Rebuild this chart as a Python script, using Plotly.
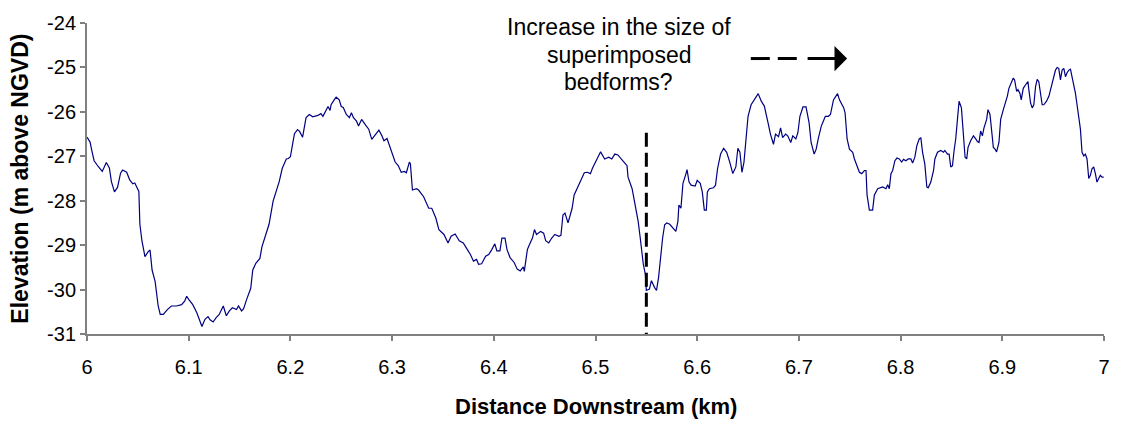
import plotly.graph_objects as go

# ---- data (distance in km, elevation in m above NGVD) ----
dist_a = [6.000,6.003,6.005,6.007,6.011,6.015,6.019,6.022,6.024,6.027,
          6.030,6.033,6.035,6.039,6.042,6.045,6.047,6.051,6.052,6.054,
          6.057,6.060,6.062,6.064,6.067,6.070,6.072,6.075,6.079,6.083,
          6.088,6.093,6.096,6.098,6.100,6.104,6.108,6.111,6.113,6.116,
          6.119,6.121,6.124,6.127,6.130,6.134,6.137,6.140,6.143,6.147,
          6.149,6.152,6.154,6.157,6.161,6.163,6.166,6.170,6.172,6.176,
          6.179,6.183,6.186,6.189,6.192,6.196,6.198,6.200,6.202,6.204,
          6.207,6.209,6.212]
elev_a = [-26.57,-26.68,-26.90,-27.10,-27.23,-27.34,-27.14,-27.26,-27.57,-27.80,
          -27.70,-27.38,-27.31,-27.36,-27.53,-27.62,-27.60,-27.79,-28.53,-28.90,
          -29.26,-29.15,-29.11,-29.56,-29.82,-30.37,-30.56,-30.56,-30.45,-30.37,
          -30.37,-30.34,-30.26,-30.15,-30.22,-30.34,-30.52,-30.71,-30.83,-30.67,
          -30.61,-30.68,-30.73,-30.63,-30.56,-30.37,-30.59,-30.48,-30.41,-30.45,
          -30.37,-30.48,-30.43,-30.22,-29.97,-29.56,-29.41,-29.30,-29.04,-28.75,
          -28.53,-28.01,-27.79,-27.57,-27.27,-27.06,-27.05,-27.01,-26.75,-26.49,
          -26.40,-26.44,-26.57]

dist_b = [6.2154,6.2186,6.222,6.227,6.230,6.232,6.235,6.237,6.239,6.240,
          6.243,6.245,6.248,6.250,6.252,6.255,6.258,6.260,6.262,6.265,
          6.267,6.270,6.274]
elev_b = [-26.13,-26.06,-26.11,-26.08,-26.04,-26.10,-25.97,-25.88,-25.97,-25.84,
          -25.73,-25.67,-25.73,-25.88,-25.90,-26.06,-26.13,-26.02,-26.13,-26.21,
          -26.32,-26.17,-26.30]

dist_c = [6.277,6.280,6.283,6.287,6.290,6.292,6.295,6.297,6.300,6.303,
          6.306,6.309,6.312,6.314,6.317,6.318,6.320,6.324,6.326,6.331,
          6.336,6.339,6.343,6.346,6.351,6.355,6.358,6.362,6.366,6.370,
          6.374,6.377,6.380,6.383,6.385,6.388,6.392,6.395,6.398,6.401,
          6.403,6.406,6.408,6.411,6.413,6.416,6.420,6.423,6.426,6.429,
          6.430,6.433,6.435,6.438,6.440,6.442,6.446,6.449,6.451,6.454,
          6.457,6.460,6.464,6.466,6.468,6.470,6.473,6.477,6.479,6.482,
          6.486,6.489,6.492,6.495,6.497,6.500]
elev_c = [-26.39,-26.62,-26.54,-26.41,-26.54,-26.65,-26.60,-26.73,-26.91,-27.13,
          -27.21,-27.36,-27.34,-27.37,-27.13,-27.17,-27.76,-27.73,-27.76,-27.91,
          -28.17,-28.17,-28.39,-28.65,-28.76,-28.95,-28.80,-28.75,-28.90,-28.95,
          -29.10,-29.21,-29.36,-29.32,-29.43,-29.42,-29.25,-29.21,-29.10,-28.97,
          -29.13,-29.13,-28.84,-28.84,-29.10,-29.28,-29.39,-29.54,-29.58,-29.49,
          -29.59,-29.10,-28.99,-28.84,-28.65,-28.76,-28.69,-28.73,-28.90,-28.95,
          -28.84,-28.76,-28.80,-28.78,-28.32,-28.28,-28.50,-28.17,-27.87,-27.73,
          -27.54,-27.37,-27.36,-27.39,-27.27,-27.13]

dist_d = [6.502,6.505,6.509,6.513,6.516,6.519,6.522,6.525,6.528,6.531,
          6.532,6.536,6.539,6.542,6.544,6.546,6.547,6.549,6.550,6.553,
          6.555,6.558,6.560,6.562,6.564,6.566,6.568,6.570,6.573,6.577,
          6.579,6.581,6.582,6.584,6.586,6.589,6.590,6.592,6.594,6.598,
          6.600,6.603,6.605,6.607,6.609,6.610,6.612,6.616,6.618,6.620,
          6.623,6.626,6.629,6.632,6.635,6.638,6.640,6.642,6.644,6.646,
          6.648,6.650,6.653,6.656,6.660,6.663,6.666,6.670,6.672,6.675,
          6.677,6.680,6.682,6.684,6.687,6.689,6.692,6.694,6.697,6.699,
          6.701,6.704,6.707,6.710,6.712,6.715,6.717,6.719,6.722,6.724,
          6.726,6.729,6.731,6.734,6.738]
elev_d = [-27.06,-26.90,-27.06,-27.02,-27.06,-26.95,-26.97,-27.06,-27.13,-27.21,
          -27.47,-27.73,-28.10,-28.47,-28.84,-29.20,-29.43,-29.65,-30.02,-29.99,
          -29.80,-29.95,-30.02,-29.73,-29.21,-28.84,-28.54,-28.50,-28.53,-28.65,
          -28.69,-28.47,-28.10,-28.17,-27.61,-27.39,-27.30,-27.58,-27.65,-27.67,
          -27.54,-27.61,-27.80,-28.21,-28.21,-27.80,-27.73,-27.71,-27.65,-27.28,
          -26.95,-26.82,-26.91,-27.13,-27.39,-27.24,-26.82,-26.91,-27.36,-27.13,
          -26.54,-26.10,-25.84,-25.73,-25.59,-25.76,-25.87,-26.28,-26.50,-26.73,
          -26.50,-26.56,-26.36,-26.58,-26.50,-26.54,-26.69,-26.54,-26.61,-26.47,
          -26.10,-25.89,-25.89,-26.24,-26.69,-26.95,-26.84,-26.61,-26.32,-26.21,
          -26.10,-26.10,-26.06,-25.73,-25.59]

dist_e = [6.7399,6.7441,6.7454,6.7474,6.7497,6.7529,6.7546,6.7572,6.7595,6.7618,
          6.7644,6.7660,6.7670,6.7693,6.7725,6.7742,6.7775,6.7824,6.7856,6.7873,
          6.7889,6.7905,6.7922,6.7944,6.7964,6.7987,6.8010,6.8029,6.8052,6.8075,
          6.8101,6.8118,6.8140,6.8160,6.8183,6.8199,6.8216,6.8238,6.8258,6.8271,
          6.8297,6.8324,6.8337,6.8363,6.8395,6.8422,6.8435,6.8461,6.8477,6.8493,
          6.8510,6.8526,6.8542,6.8559,6.8575,6.8598,6.8618,6.8634,6.8650,6.8663,
          6.8689,6.8716,6.8739,6.8755,6.8771,6.8787,6.8804,6.8820,6.8846,6.8859,
          6.8879,6.8892,6.8912,6.8928,6.8944,6.8967,6.8984,6.9010,6.9033,6.9049,
          6.9065,6.9088,6.9108,6.9121,6.9141,6.9154,6.9173,6.9186,6.9206,6.9229,
          6.9252,6.9261,6.9278,6.9294,6.9310,6.9327,6.9343,6.9359,6.9376,6.9392,
          6.9408,6.9435,6.9458,6.9474,6.9500,6.9523,6.9539,6.9555,6.9572,6.9588,
          6.9605,6.9621,6.9637,6.9654,6.9670,6.9686,6.9703,6.9719,6.9735,6.9752,
          6.9768,6.9784,6.9801,6.9817,6.9833,6.9850,6.9866,6.9882,6.9899,6.9915,
          6.9931,6.9948,6.9964,6.9980,6.9997]
elev_e = [-25.73,-25.91,-26.02,-26.61,-26.84,-26.91,-27.06,-27.21,-27.36,-27.39,
          -27.32,-27.32,-27.87,-28.21,-28.21,-27.87,-27.73,-27.69,-27.73,-27.64,
          -27.73,-27.39,-27.32,-27.10,-27.04,-27.06,-27.13,-27.07,-27.10,-27.06,
          -27.06,-27.15,-27.02,-26.76,-26.61,-26.58,-26.91,-27.17,-27.69,-27.71,
          -27.58,-27.32,-27.06,-26.91,-26.87,-26.91,-26.87,-26.95,-26.95,-27.24,
          -27.21,-26.87,-26.61,-26.17,-25.76,-25.91,-26.54,-27.02,-27.06,-26.80,
          -26.65,-26.54,-26.61,-26.67,-26.69,-26.43,-26.54,-26.36,-26.17,-25.95,
          -26.06,-26.43,-26.80,-26.84,-26.90,-26.69,-26.17,-25.95,-25.80,-25.65,
          -25.47,-25.36,-25.24,-25.28,-25.54,-25.50,-25.58,-25.73,-25.47,-25.39,
          -25.32,-25.50,-25.80,-25.91,-25.84,-25.43,-25.27,-25.32,-25.54,-25.84,
          -25.84,-25.76,-25.65,-25.50,-25.28,-25.06,-25.00,-25.02,-25.28,-25.06,
          -25.02,-25.21,-25.12,-25.06,-25.04,-25.21,-25.36,-25.58,-25.84,-26.10,
          -26.39,-26.91,-26.99,-26.95,-27.06,-27.50,-27.43,-27.28,-27.24,-27.39,
          -27.58,-27.50,-27.43,-27.47,-27.47]

distance_km = dist_a + dist_b + dist_c + dist_d + dist_e
elevation_m = elev_a + elev_b + elev_c + elev_d + elev_e
assert len(distance_km) == len(elevation_m)

x_ticks = [6.0, 6.1, 6.2, 6.3, 6.4, 6.5, 6.6, 6.7, 6.8, 6.9, 7.0]
x_tick_text = ["6", "6.1", "6.2", "6.3", "6.4", "6.5", "6.6", "6.7", "6.8", "6.9", "7"]
y_ticks = [-31, -30, -29, -28, -27, -26, -25, -24]
y_tick_text = ["-31", "-30", "-29", "-28", "-27", "-26", "-25", "-24"]

marker_x = 6.55          # dashed marker line
marker_top = -26.47
arrow_x0, arrow_x1, arrow_y = 6.6527, 6.7474, -24.80
note_lines = ["Increase in the size of", "superimposed", "bedforms?"]
note_y = [-24.09, -24.73, -25.32]
note_x = 6.523

FONT = "Liberation Sans, Arial, sans-serif"
AXIS_GRAY = "#808080"

fig = go.Figure()
fig.add_trace(go.Scatter(x=distance_km, y=elevation_m, mode="lines",
                         line=dict(color="#000080", width=1.2),
                         hoverinfo="x+y", showlegend=False))

# vertical dashed marker
fig.add_shape(type="line", xref="x", yref="y", x0=marker_x, x1=marker_x,
              y0=marker_top, y1=-31, line=dict(color="black", width=3, dash="14px,6px"))
# dashed arrow shaft
fig.add_shape(type="line", xref="x", yref="y", x0=arrow_x0, x1=arrow_x1 - 0.048,
              y0=arrow_y, y1=arrow_y, line=dict(color="black", width=3, dash="19px,8px"))
# arrow head with last solid dash
fig.add_annotation(x=arrow_x1, y=arrow_y, xref="x", yref="y", ax=-41, ay=0,
                   axref="pixel", ayref="pixel", text="", showarrow=True,
                   arrowhead=1, arrowsize=1.4, arrowwidth=3, arrowcolor="black")

for txt, yy in zip(note_lines, note_y):
    fig.add_annotation(x=note_x, y=yy, xref="x", yref="y", text=txt, showarrow=False,
                       font=dict(family=FONT, size=23, color="black"),
                       xanchor="center", yanchor="middle")

fig.add_annotation(x=0.5, y=-0.232, xref="paper", yref="paper",
                   text="<b>Distance Downstream (km)</b>", showarrow=False,
                   font=dict(family=FONT, size=22, color="black"),
                   xanchor="center", yanchor="middle")
fig.add_annotation(x=-0.0667, y=0.5, xref="paper", yref="paper",
                   text="<b>Elevation (m above NGVD)</b>", showarrow=False, textangle=-90,
                   font=dict(family=FONT, size=23, color="black"),
                   xanchor="center", yanchor="middle")

fig.update_layout(
    width=1122, height=421,
    margin=dict(l=87, r=16, t=19, b=87),
    plot_bgcolor="white", paper_bgcolor="white",
    font=dict(family=FONT, size=20, color="black"),
    xaxis=dict(range=[6, 7], tickvals=x_ticks, ticktext=x_tick_text,
               showgrid=False, zeroline=False, showline=True,
               linecolor=AXIS_GRAY, linewidth=2, ticks="outside", ticklen=5,
               tickcolor=AXIS_GRAY, tickwidth=1.5, ticklabelstandoff=9,
               tickfont=dict(family=FONT, size=20, color="black")),
    yaxis=dict(range=[-31, -24], tickvals=y_ticks, ticktext=y_tick_text,
               showgrid=False, zeroline=False, showline=True,
               linecolor=AXIS_GRAY, linewidth=2, ticks="outside", ticklen=5,
               tickcolor=AXIS_GRAY, tickwidth=1.5,
               tickfont=dict(family=FONT, size=20, color="black")),
)

fig.write_html("out.html", config={"displayModeBar": False},
               post_script="document.body.style.margin='0px';document.body.style.padding='0px';")
